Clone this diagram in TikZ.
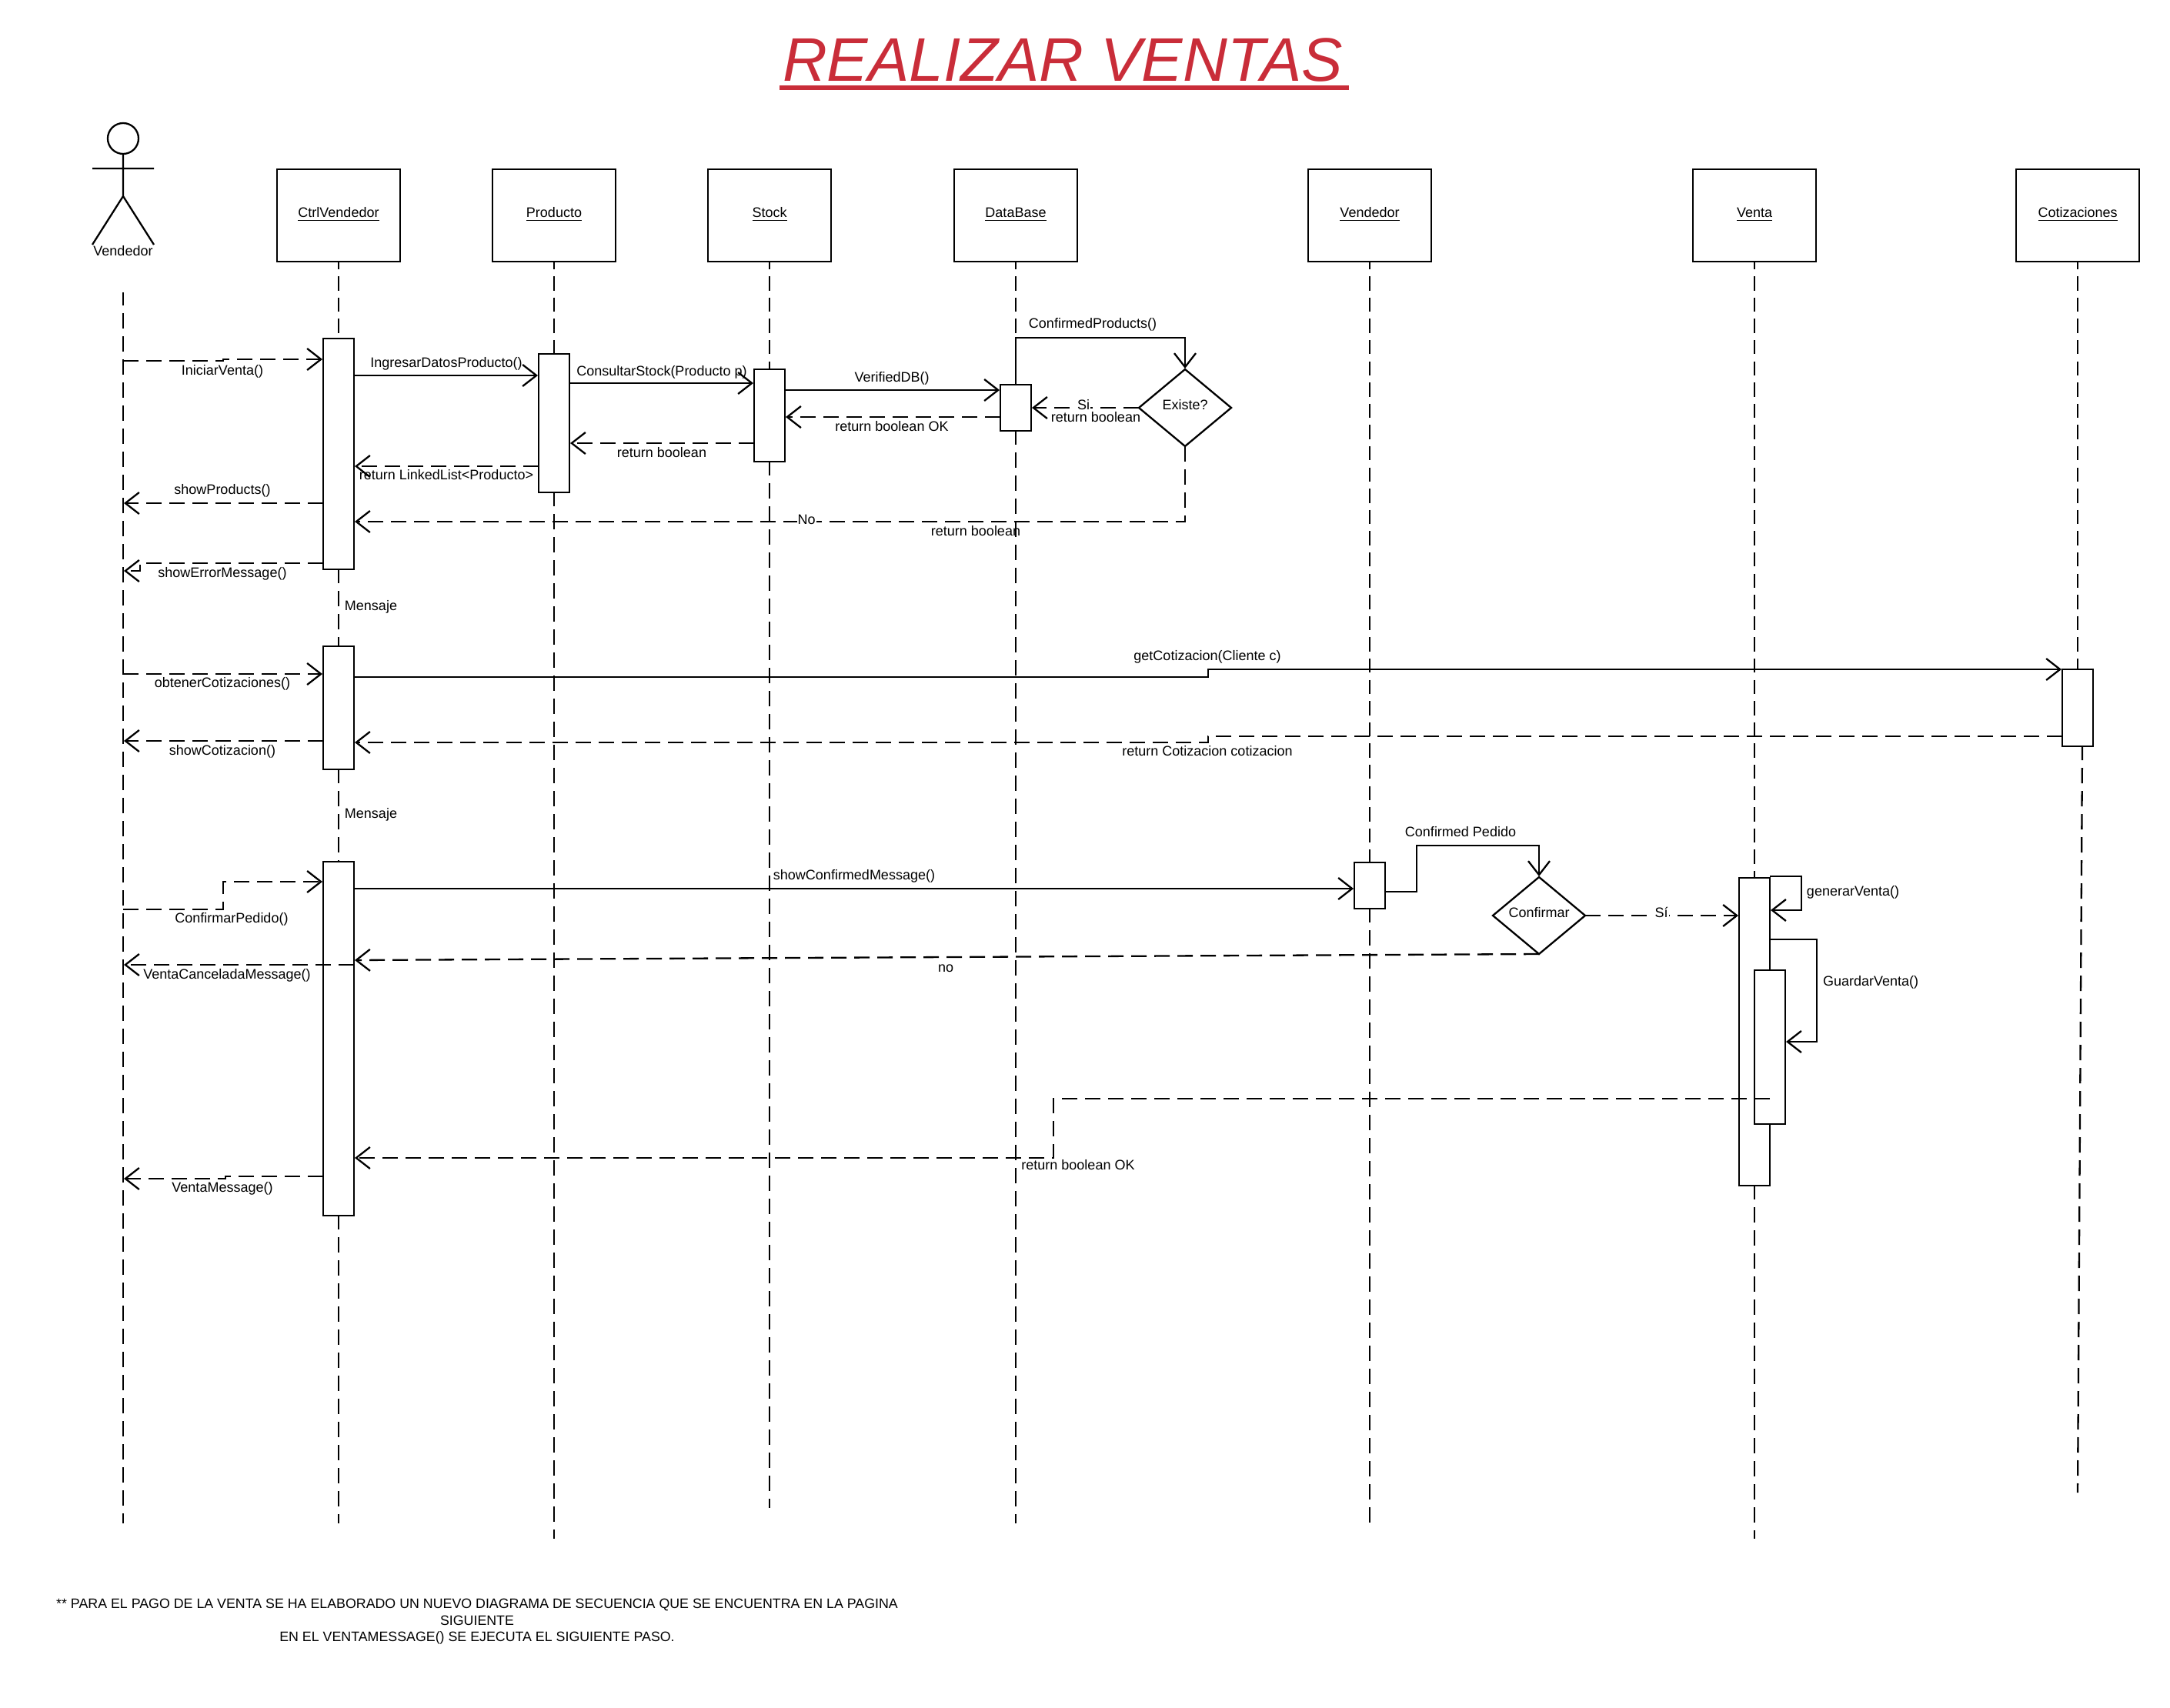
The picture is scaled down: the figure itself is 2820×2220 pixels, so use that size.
\documentclass[tikz,border=0pt]{standalone}
\usepackage{fontspec}
\setmainfont{Liberation Sans}
\usetikzlibrary{arrows.meta,shapes.geometric}
\definecolor{titlered}{HTML}{C92D39}
\tikzset{
  line/.style={line width=1.15pt,black},
  box/.style={line,draw,fill=white,inner sep=0pt,outer sep=0pt,minimum width=80pt,minimum height=60pt,font=\fontsize{9pt}{10.8pt}\selectfont,text height=6.5pt,text depth=3.5pt},
  act/.style={line,draw,fill=white,inner sep=0pt,outer sep=0pt,minimum width=20pt},
  dec/.style={line,draw,fill=white,shape=diamond,aspect=1.2,inner sep=0pt,outer sep=0pt,minimum width=60pt,minimum height=50pt,font=\fontsize{9pt}{10.8pt}\selectfont,text height=6.5pt,text depth=4pt},
  life/.style={line,dash pattern=on 10pt off 5pt,dash phase=1pt},
  lifetop/.style={line,dash pattern=on 9.25pt off 4.55pt,dash phase=4.25pt},
  msg/.style={line,-{Straight Barb[length=9pt,width=14pt,line width=1.15pt]},shorten >=0.5pt},
  ret/.style={msg,dash pattern=on 10pt off 5pt},
  lbl/.style={inner sep=0pt,font=\fontsize{9pt}{10.8pt}\selectfont,text height=6.5pt,text depth=1pt},
  glbl/.style={lbl,fill=white,inner xsep=0.5pt},
}
\begin{document}
\begin{tikzpicture}[x=0.5pt,y=-0.5pt]
\useasboundingbox (0,0) rectangle (2820,2220);
% title
\node[inner sep=0pt,anchor=base,text=titlered,font=\fontsize{40pt}{48pt}\selectfont\itshape] (title) at (1381,106) {REALIZAR VENTAS};
\fill[titlered] (1013,111) rectangle (1753,117);
% actor
\node[line,draw,circle,minimum size=20pt,inner sep=0pt,outer sep=0pt] (head) at (160,180) {};
\coordinate (hip) at (160,255);
\coordinate (armL) at (120,219);
\coordinate (armR) at (200,219);
\coordinate (legL) at (120,318);
\coordinate (legR) at (200,318);
\draw[line] (head.south) -- (hip) (armL) -- (armR) (legL) -- (hip) -- (legR);
\node[lbl] (actor) at (160,327) {Vendedor};
% objects
\node[box] (ctrl) at (440,280) {\underline{CtrlVendedor}};
\node[box] (prod) at (720,280) {\underline{Producto}};
\node[box] (stock) at (1000,280) {\underline{Stock}};
\node[box] (db) at (1320,280) {\underline{DataBase}};
\node[box] (vend) at (1780,280) {\underline{Vendedor}};
\node[box] (venta) at (2280,280) {\underline{Venta}};
\node[box] (coti) at (2700,280) {\underline{Cotizaciones}};
% activations (positions fixed first, drawn over the lifelines)
\coordinate (vtop) at (160,380);
\coordinate (vend0) at (160,1980);
\coordinate (ctrlE) at (440,1980);
\coordinate (prodE) at (720,2000);
\coordinate (stockE) at (1000,1960);
\coordinate (dbE) at (1320,1980);
\coordinate (vendE) at (1780,1980);
\coordinate (ventaE) at (2280,2000);
\coordinate (cotiE) at (2700,1940);
\coordinate (cotiS) at (2706,970);
\node[act,minimum height=150pt] (c1) at (440,590) {};
\node[act,minimum height=80pt] (c2) at (440,920) {};
\node[act,minimum height=230pt] (c3) at (440,1350) {};
\node[act,minimum height=90pt] (p1) at (720,550) {};
\node[act,minimum height=60pt] (s1) at (1000,540) {};
\node[act,minimum height=30pt] (d1) at (1320,530) {};
\node[act,minimum height=30pt] (v1) at (1780,1151) {};
\node[act,minimum height=200pt] (t1) at (2280,1341) {};
\node[act,minimum height=100pt] (t2) at (2300,1361) {};
\node[act,minimum height=50pt] (q1) at (2700,920) {};
% lifelines
\draw[life,dash phase=1.5pt] (vtop) -- (vend0);
\draw[lifetop] (ctrl.south) -- (c1.north);
\draw[lifetop] (prod.south) -- (p1.north);
\draw[lifetop] (stock.south) -- (s1.north);
\draw[lifetop] (db.south) -- (1320,439);
\draw[lifetop] (vend.south) -- (v1.north);
\draw[lifetop] (venta.south) -- (t1.north);
\draw[lifetop] (coti.south) -- (q1.north);
\begin{scope}[on background layer/.style={}]
\draw[life] (c1.south) -- (c2.north);
\draw[life] (c2.south) -- (c3.north);
\draw[life] (c3.south) -- (ctrlE);
\draw[life] (p1.south) -- (prodE);
\draw[life] (s1.south) -- (stockE);
\draw[life] (d1.south) -- (dbE);
\draw[life] (v1.south) -- (vendE);
\draw[life] (t1.south) -- (ventaE);
\draw[life] (cotiS) -- (cotiE);
\end{scope}
% decisions
\node[dec] (ex) at (1540,530) {Existe?};
\node[dec] (cf) at (2000,1190) {Confirmar};
% block 1
\draw[ret] (vtop |- 0,469) -- (290,469) -- (290,467) -- (c1.west |- 0,467);
\node[lbl] (l1) at (289,482) {IniciarVenta()};
\draw[msg] (c1.east |- 0,488) -- (p1.west |- 0,488);
\node[lbl] (l2) at (580,472) {IngresarDatosProducto()};
\draw[msg] (p1.east |- 0,498) -- (s1.west |- 0,498);
\node[lbl] (l3) at (860,483) {ConsultarStock(Producto p)};
\draw[msg] (s1.east |- 0,507) -- (d1.west |- 0,507);
\node[lbl] (l4) at (1159,491) {VerifiedDB()};
\draw[ret] (d1.west |- 0,542) -- (s1.east |- 0,542);
\node[lbl] (l5) at (1159,555) {return boolean OK};
\draw[msg] (d1.north) -- (1320,439) -- (1540,439) -- (ex.north);
\node[lbl] (l6) at (1420,421) {ConfirmedProducts()};
\draw[ret] (ex.west) -- (d1.east);
\node[glbl] (l7) at (1408,527) {Si};
\node[lbl] (l8) at (1424,543) {return boolean};
\draw[ret] (ex.south) -- (1540,678) -- (c1.east |- 0,678);
\node[glbl] (l9) at (1048,676) {No};
\node[lbl] (l10) at (1268,691) {return boolean};
\draw[ret] (s1.west |- 0,576) -- (p1.east |- 0,576);
\node[lbl] (l11) at (860,589) {return boolean};
\draw[ret] (p1.west |- 0,606) -- (c1.east |- 0,606);
\node[lbl] (l12) at (580,618) {return LinkedList<Producto>};
\draw[ret] (c1.west |- 0,654) -- (vtop |- 0,654);
\node[lbl] (l13) at (289,637) {showProducts()};
\draw[ret] (c1.west |- 0,732) -- (182,732) -- (182,742) -- (vtop |- 0,742);
\node[lbl] (l14) at (289,745) {showErrorMessage()};
\node[lbl] (m1) at (482,788) {Mensaje};
% block 2
\draw[ret] (vtop |- 0,876) -- (c2.west |- 0,876);
\node[lbl] (l15) at (289,888) {obtenerCotizaciones()};
\draw[msg] (c2.east |- 0,880) -- (1570,880) -- (1570,870) -- (q1.west |- 0,870);
\node[lbl] (l16) at (1569,853) {getCotizacion(Cliente c)};
\draw[ret] (q1.west |- 0,957) -- (1570,957) -- (1570,965) -- (c2.east |- 0,965);
\node[lbl] (l17) at (1569,977) {return Cotizacion cotizacion};
\draw[ret] (c2.west |- 0,963) -- (vtop |- 0,963);
\node[lbl] (l18) at (289,976) {showCotizacion()};
\node[lbl] (m2) at (482,1058) {Mensaje};
% block 3
\draw[ret] (vtop |- 0,1182) -- (290,1182) -- (290,1146) -- (c3.west |- 0,1146);
\node[lbl] (l19) at (301,1194) {ConfirmarPedido()};
\draw[msg] (c3.east |- 0,1155) -- (v1.west |- 0,1155);
\node[lbl] (l20) at (1110,1138) {showConfirmedMessage()};
\draw[msg] (v1.east |- 0,1159) -- (1841,1159) -- (1841,1099) -- (2000,1099) -- (cf.north);
\node[lbl] (l21) at (1898,1082) {Confirmed Pedido};
\draw[ret] (cf.east) -- (t1.west |- 0,1190);
\node[glbl] (l22) at (2159,1187) {Sí};
\draw[ret] (cf.south) -- (c3.east |- 0,1248);
\node[lbl] (l23) at (1229,1258) {no};
\draw[ret] (c3.east |- 0,1254) -- (vtop |- 0,1254);
\node[lbl] (l24) at (295,1267) {VentaCanceladaMessage()};
\draw[msg] (t1.east |- 0,1139) -- (2341,1139) -- (2341,1183) -- (t1.east |- 0,1183);
\node[lbl] (l25) at (2408,1159) {generarVenta()};
\draw[msg] (t1.east |- 0,1221) -- (2361,1221) -- (2361,1354) -- (t2.east |- 0,1354);
\node[lbl] (l26) at (2431,1276) {GuardarVenta()};
\draw[ret] (t2.center |- 0,1428) -- (1369,1428) -- (1369,1505) -- (c3.east |- 0,1505);
\node[lbl] (l27) at (1401,1515) {return boolean OK};
\draw[ret] (c3.west |- 0,1529) -- (293,1529) -- (293,1532) -- (vtop |- 0,1532);
\node[lbl] (l28) at (289,1544) {VentaMessage()};
% note
\node[inner sep=0pt,align=center,font=\fontsize{8.9pt}{10.8pt}\selectfont] (note) at (620,2108) {** PARA EL PAGO DE LA VENTA SE HA ELABORADO UN NUEVO DIAGRAMA DE SECUENCIA QUE SE ENCUENTRA EN LA PAGINA\\SIGUIENTE\\EN EL VENTAMESSAGE() SE EJECUTA EL SIGUIENTE PASO.};
\end{tikzpicture}
\end{document}
